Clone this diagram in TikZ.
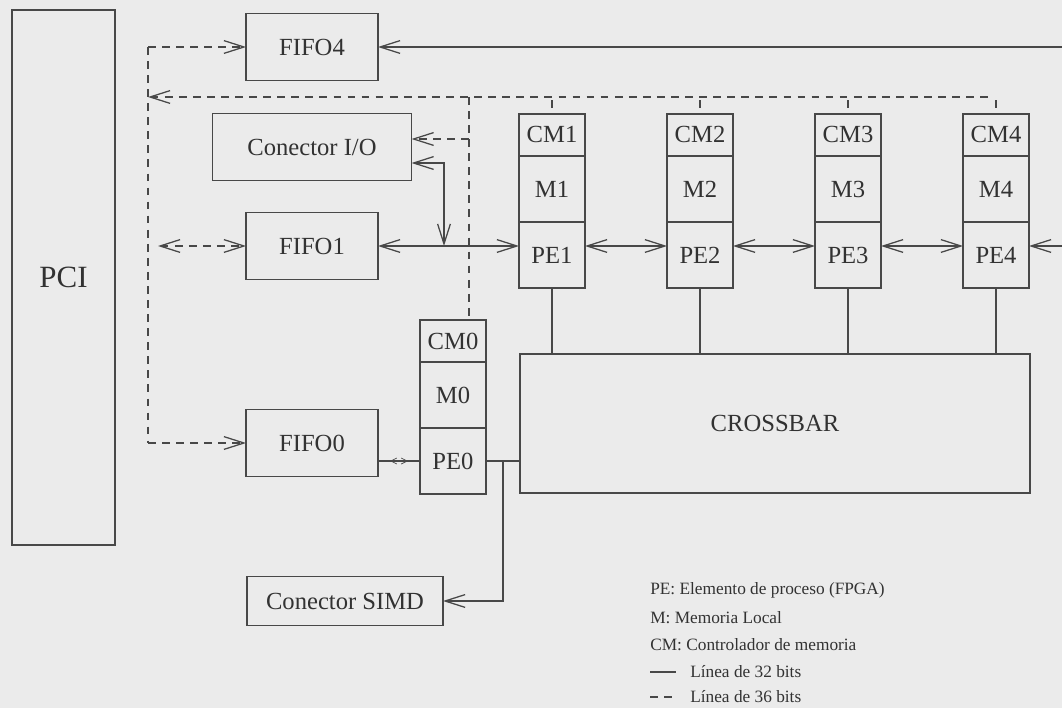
\documentclass[tikz,border=0pt]{standalone}
\usepackage{fontspec}
\setmainfont{Liberation Serif}
\usetikzlibrary{arrows.meta,positioning}

\definecolor{paper}{RGB}{235,235,235}
\definecolor{ink}{RGB}{72,72,72}

\begin{document}
\begin{tikzpicture}[x=0.025cm,y=-0.025cm,
  box/.style={draw=ink,line width=0.9pt,text=ink!70!black,inner sep=0pt,outer sep=0pt,
    font=\fontsize{17.5}{20}\selectfont},
  fifo/.style={box,minimum width=3.3cm,minimum height=1.675cm},
  cell/.style={box,minimum width=1.65cm,minimum height=1.65cm},
  cmcell/.style={cell,minimum height=1.05cm},
  legend/.style={text=ink!70!black,inner sep=0pt,anchor=west,font=\fontsize{12.3}{14}\selectfont},
  bus32/.style={draw=ink,line width=0.9pt},
  bus36/.style={bus32,dash pattern=on 5.5pt off 4.5pt},
  >={Straight Barb[length=5mm,width=3.2mm]}]
\useasboundingbox (0,0) rectangle (1062,708);
\fill[paper] (0,0) rectangle (1062,708);

% Blocks
\node[box,minimum width=2.575cm,minimum height=13.375cm,font=\fontsize{22}{26}\selectfont] (pci) at (63.5,277.5) {PCI};
\node[fifo] (fifo4) at (312,47) {FIFO4};
\node[box,minimum width=4.975cm,minimum height=1.675cm] (conio) at (312,147) {Conector I/O};
\node[fifo] (fifo1) at (312,246) {FIFO1};
\node[fifo] (fifo0) at (312,443) {FIFO0};
\node[box,minimum width=4.9cm,minimum height=1.225cm] (consimd) at (345,601) {Conector SIMD};
\node[box,minimum width=12.75cm,minimum height=3.475cm] (xbar) at (775,423.5) {CROSSBAR};

% PE columns
\node[cell] (pe0) at (453,461) {PE0};
\node[cell,above=0pt of pe0] (m0) {M0};
\node[cmcell,above=0pt of m0] (cm0) {CM0};
\foreach \i/\x in {1/552,2/700,3/848,4/996} {
  \node[cell] (pe\i) at (\x,255) {PE\i};
  \node[cell,above=0pt of pe\i] (m\i) {M\i};
  \node[cmcell,above=0pt of m\i] (cm\i) {CM\i};
}

% Lines of 36 bits
\coordinate (bustop) at (148,47);
\coordinate (busbot) at (148,443);
\coordinate (buscm) at (148,97);
\draw[bus36] (bustop) -- (busbot);
\draw[bus36,->] (bustop) -- (fifo4.west);
\draw[bus36,->] (busbot) -- (fifo0.west);
\draw[bus36,<->,shorten <=0.25cm] (bustop |- fifo1.west) -- (fifo1.west);
\draw[bus36,<-] (buscm) -- ([xshift=-0.15cm]cm4.north |- buscm);
\foreach \i in {1,...,4}
  \draw[bus36] ([yshift=-0.08cm]cm\i.north |- buscm) -- (cm\i.north);
\coordinate (cm0in) at ([xshift=0.4cm]cm0.north);
\draw[bus36] (cm0in |- buscm) -- (cm0in);
\coordinate (iodash) at ([yshift=0.2cm]conio.east);
\draw[bus36,->] (iodash -| cm0in) -- (iodash);

% Lines of 32 bits
\coordinate (iosolid) at ([yshift=-0.4cm]conio.east);
\coordinate (fifo1tap) at (444,246);
\draw[bus32,<->] (iosolid) -| (fifo1tap);
\draw[bus32,<->] (fifo1.east) -- (pe1.west |- fifo1.east);
\foreach \i/\j in {1/2,2/3,3/4}
  \draw[bus32,<->] (pe\i.east |- fifo1.east) -- (pe\j.west |- fifo1.east);
\coordinate (edgepe) at (1062,246);
\draw[bus32,->] (edgepe) -- (pe4.east |- edgepe);
\coordinate (edgefifo) at (1062,47);
\draw[bus32,->] (edgefifo) -- (fifo4.east);
\foreach \i in {1,...,4}
  \draw[bus32] (pe\i.south) -- (pe\i.south |- xbar.north);
\draw[bus32] (pe0.east) -- (pe0.east -| xbar.west);
\coordinate (simdtap) at (503,461);
\draw[bus32,->] (simdtap) |- (consimd.east);
\draw[bus32] (fifo0.east |- pe0.west) -- (pe0.west);
\draw[bus32,line width=0.5pt,{Straight Barb[length=1.5mm,width=1.5mm]}-{Straight Barb[length=1.5mm,width=1.5mm]},
  shorten <=0.3cm,shorten >=0.3cm] (fifo0.east |- pe0.west) -- (pe0.west);

% Legend
\node[legend] (legpe) at (650,590) {PE: Elemento de proceso (FPGA)};
\node[legend] (legm) at (650,618) {M: Memoria Local};
\node[legend] (legcm) at (650,645) {CM: Controlador de memoria};
\node[legend] (leg32) at (690,672) {Línea de 32 bits};
\node[legend] (leg36) at (690,697) {Línea de 36 bits};
\draw[bus32] (650,672) -- (676,672);
\draw[bus36] (650,697) -- (676,697);
\end{tikzpicture}
\end{document}
